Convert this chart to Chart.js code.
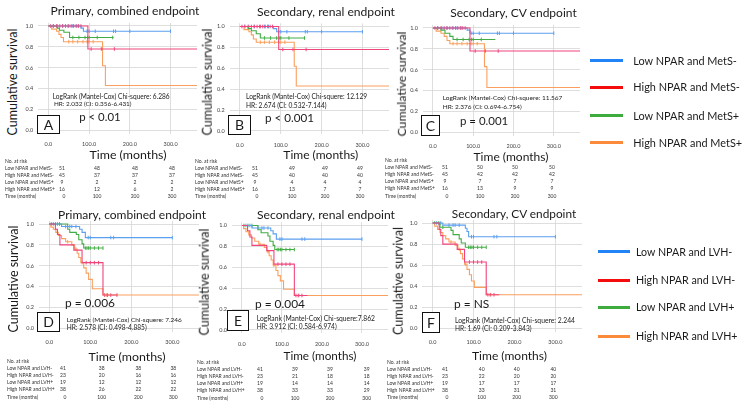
<!DOCTYPE html>
<html>
<head>
<meta charset="utf-8">
<title>Kaplan-Meier curves by NPAR with MetS and LVH</title>
<script src="https://cdn.jsdelivr.net/npm/chart.js@4.4.1/dist/chart.umd.min.js"></script>
<style>
html,body{margin:0;padding:0;background:#fff;}
#page{position:relative;width:745px;height:406px;overflow:hidden;font-family:Lato,"Liberation Sans",sans-serif;color:#1a1a1a;}
#page canvas{position:absolute;}
.t{position:absolute;white-space:nowrap;line-height:1;}
.box{position:absolute;border:1.4px solid #111;box-sizing:border-box;background:#fff;}
.lg{position:absolute;height:3px;}
</style>
</head>
<body>
<div id="page"></div>
<script>
// ================= DATA =================
const xTicks = [0, 100, 200, 300];
const yTicks = [0, 0.2, 0.4, 0.6, 0.8, 1.0];
const riskTimes = [0, 100, 200, 300];
const groupsMetS = ['Low NPAR and MetS-', 'High NPAR and MetS-', 'Low NPAR and MetS+', 'High NPAR and MetS+'];
const groupsLVH = ['Low NPAR and LVH-', 'High NPAR and LVH-', 'Low NPAR and LVH+', 'High NPAR and LVH+'];
const panelLetters = ['A', 'B', 'C', 'D', 'E', 'F'];
const panelTitles = ['Primary, combined endpoint', 'Secondary, renal endpoint', 'Secondary, CV endpoint',
                     'Primary, combined endpoint', 'Secondary, renal endpoint', 'Secondary, CV endpoint'];
const pValues = ['p < 0.01', 'p < 0.001', 'p = 0.001', 'p = 0.006', 'p = 0.004', 'p = NS'];
const logRank = ['LogRank (Mantel-Cox) Chi-squere: 6.286', 'LogRank (Mantel-Cox) Chi-squere: 12.129',
                 'LogRank (Mantel-Cox) Chi-squere: 11.567', 'LogRank (Mantel-Cox) Chi-squere: 7.246',
                 'LogRank (Mantel-Cox) Chi-squere:7.862', 'LogRank (Mantel-Cox) Chi-squere: 2.244'];
const hazardRatios = ['HR: 2.032 (CI: 0.356-6.431)', 'HR: 2.674 (CI: 0.532-7.144)', 'HR: 2.376 (CI: 0.694-6.754)',
                      'HR: 2.578 (CI: 0.498-4.885)', 'HR: 3.912 (CI: 0.584-6.974)', 'HR: 1.69 (CI: 0.209-3.843)'];

// Numbers at risk (rows follow the group order), columns at riskTimes
const riskA = [[51, 48, 48, 48], [45, 37, 37, 37], [9, 2, 2, 2], [16, 12, 6, 2]];
const riskB = [[51, 49, 49, 49], [45, 40, 40, 40], [9, 4, 4, 4], [16, 13, 7, 7]];
const riskC = [[51, 50, 50, 50], [45, 42, 42, 42], [9, 7, 7, 7], [16, 13, 9, 9]];
const riskD = [[41, 38, 38, 38], [23, 20, 16, 16], [19, 12, 12, 12], [38, 26, 22, 22]];
const riskE = [[41, 39, 39, 39], [23, 21, 18, 18], [19, 14, 14, 14], [38, 33, 33, 29]];
const riskF = [[41, 40, 40, 40], [23, 22, 20, 20], [19, 17, 17, 17], [38, 33, 31, 31]];

// Kaplan-Meier steps: [months, cumulative survival after the event]
// Panel A
const kmA_low1 = [[0, 1], [80, 0.98], [86, 0.95], [301, 0.95]];
const kmA_high1 = [[0, 1], [97, 0.78], [365, 0.78]];
const kmA_low2 = [[0, 1], [22, 0.98], [27, 0.96], [38, 0.94], [52, 0.89], [160, 0.89]];
const kmA_high2 = [[0, 1], [8, 0.97], [20, 0.95], [26, 0.92], [31, 0.89], [37, 0.85], [133, 0.62], [140, 0.43], [365, 0.43]];
// Panel B
const kmB_low1 = [[0, 1], [82, 0.98], [90, 0.95], [300, 0.95]];
const kmB_high1 = [[0, 1], [95, 0.78], [365, 0.78]];
const kmB_low2 = [[0, 1], [20, 0.98], [28, 0.96], [40, 0.93], [50, 0.89], [160, 0.89]];
const kmB_high2 = [[0, 1], [10, 0.97], [22, 0.95], [28, 0.92], [33, 0.88], [40, 0.85], [133, 0.62], [138, 0.43], [365, 0.43]];
// Panel C
const kmC_low1 = [[0, 1], [85, 0.98], [92, 0.95], [300, 0.95]];
const kmC_high1 = [[0, 1], [92, 0.78], [365, 0.78]];
const kmC_low2 = [[0, 1], [20, 0.98], [30, 0.95], [42, 0.92], [50, 0.89], [155, 0.89]];
const kmC_high2 = [[0, 1], [8, 0.97], [20, 0.95], [28, 0.92], [35, 0.88], [42, 0.85], [128, 0.63], [134, 0.43], [365, 0.43]];
// Panel D
const kmD_low1 = [[0, 1], [30, 0.976], [74, 0.95], [80, 0.92], [88, 0.87], [300, 0.87]];
const kmD_high1 = [[0, 1], [15, 0.95], [20, 0.90], [26, 0.80], [60, 0.75], [80, 0.63], [131, 0.32], [167, 0.32]];
const kmD_low2 = [[0, 1], [45, 0.95], [50, 0.92], [66, 0.90], [72, 0.85], [80, 0.81], [84, 0.77], [131, 0.77]];
const kmD_high2 = [[0, 1], [4, 0.97], [10, 0.95], [16, 0.92], [22, 0.89], [30, 0.86], [40, 0.83], [55, 0.80], [62, 0.76], [68, 0.72], [72, 0.68], [77, 0.63], [84, 0.58], [90, 0.53], [96, 0.47], [105, 0.38], [131, 0.32], [365, 0.32]];
// Panel E
const kmE_low1 = [[0, 1], [25, 0.976], [72, 0.95], [78, 0.92], [86, 0.87], [300, 0.87]];
const kmE_high1 = [[0, 1], [14, 0.95], [20, 0.89], [25, 0.81], [62, 0.76], [80, 0.63], [131, 0.33], [164, 0.33]];
const kmE_low2 = [[0, 1], [40, 0.96], [48, 0.93], [65, 0.90], [70, 0.85], [78, 0.81], [82, 0.77], [131, 0.77]];
const kmE_high2 = [[0, 1], [4, 0.97], [10, 0.94], [17, 0.91], [24, 0.88], [32, 0.85], [42, 0.82], [56, 0.79], [63, 0.75], [68, 0.71], [73, 0.67], [78, 0.62], [85, 0.57], [90, 0.52], [96, 0.47], [104, 0.39], [131, 0.33], [365, 0.33]];
// Panel F
const kmF_low1 = [[0, 1], [25, 0.98], [80, 0.95], [84, 0.92], [88, 0.87], [300, 0.87]];
const kmF_high1 = [[0, 1], [16, 0.94], [20, 0.88], [25, 0.80], [60, 0.75], [78, 0.63], [131, 0.32], [163, 0.32]];
const kmF_low2 = [[0, 1], [18, 0.96], [45, 0.93], [50, 0.89], [65, 0.85], [70, 0.81], [80, 0.77], [131, 0.77]];
const kmF_high2 = [[0, 1], [5, 0.97], [12, 0.94], [18, 0.91], [25, 0.88], [32, 0.85], [40, 0.82], [55, 0.79], [62, 0.75], [68, 0.71], [73, 0.66], [78, 0.61], [84, 0.56], [90, 0.51], [95, 0.45], [102, 0.39], [131, 0.32], [365, 0.32]];

// Censoring times (months)
const cenMetS_low1 = [12, 22, 35, 48, 60, 70, 95, 100, 115, 160, 165, 200, 300];
const cenMetS_high1 = [5, 12, 20, 28, 35, 42, 50, 56, 62, 68, 74, 80, 105, 130, 162];
const cenMetS_low2 = [60, 75, 90, 96, 100, 120, 158];
const cenMetS_high2 = [50, 60, 72, 85, 95, 100, 110];
const cenLVH_low1 = [10, 20, 40, 50, 55, 65, 95, 100, 150, 157, 300];
const cenLVH_high1 = [90, 100, 110, 120, 135, 142, 150, 165];
const cenLVH_low2 = [5, 15, 25, 88, 92, 96, 100, 110, 120, 131];
const cenLVH_high2 = [45, 65, 80, 140];

// ================= LAYOUT / STYLE =================
const lineColors = ['#5b9ff0', '#f0457a', '#43ad45', '#faa05e'];
const legendColors = ['#2283f7', '#f50c0c', '#3dab3d', '#fb8a3a'];
const XMIN = -25, XMAX = 365, YMIN = -0.03, YMAX = 1.03;

const panels = [
  {g: {x0: 48.5, ppm: 41.1, y1: 26, y0: 130.5}, km: [kmA_low1, kmA_high1, kmA_low2, kmA_high2], cen: [cenMetS_low1, cenMetS_high1, cenMetS_low2, cenMetS_high2], risk: riskA, groups: groupsMetS},
  {g: {x0: 240, ppm: 41.2, y1: 26.5, y0: 131}, km: [kmB_low1, kmB_high1, kmB_low2, kmB_high2], cen: [cenMetS_low1, cenMetS_high1, cenMetS_low2, cenMetS_high2], risk: riskB, groups: groupsMetS},
  {g: {x0: 433, ppm: 40.7, y1: 28, y0: 132.5}, km: [kmC_low1, kmC_high1, kmC_low2, kmC_high2], cen: [cenMetS_low1, cenMetS_high1, cenMetS_low2, cenMetS_high2], risk: riskC, groups: groupsMetS},
  {g: {x0: 49.3, ppm: 41.3, y1: 224, y0: 328.5}, km: [kmD_low1, kmD_high1, kmD_low2, kmD_high2], cen: [cenLVH_low1, cenLVH_high1, cenLVH_low2, cenLVH_high2], risk: riskD, groups: groupsLVH},
  {g: {x0: 242, ppm: 40.3, y1: 225.5, y0: 330}, km: [kmE_low1, kmE_high1, kmE_low2, kmE_high2], cen: [cenLVH_low1, cenLVH_high1, cenLVH_low2, cenLVH_high2], risk: riskE, groups: groupsLVH},
  {g: {x0: 432.7, ppm: 41.3, y1: 223, y0: 328.5}, km: [kmF_low1, kmF_high1, kmF_low2, kmF_high2], cen: [cenLVH_low1, cenLVH_high1, cenLVH_low2, cenLVH_high2], risk: riskF, groups: groupsLVH}
];

// text placement per panel
const textPos = [
  {title: [125, 11, 149], ylab: [13.3, 81.5, 107], xlab: [128, 155, 77], box: [37, 115, 23, 19], p: [79.3, 117.3, 41.4], lr: [52.7, 95.7, 117.3], hr: [54, 104.3, 77.7], tbl: {x: 5, y: 160.5, cols: [62, 97, 135, 172]}},
  {title: [326, 12, 138], ylab: [208, 81.5, 107], xlab: [320.8, 155, 75], box: [228, 115, 23, 20], p: [265, 118.3, 49], lr: [246, 95.7, 121.3], hr: [246, 105, 80.7], tbl: {x: 195, y: 160.5, cols: [255, 292, 325, 360]}},
  {title: [513.5, 13.3, 127], ylab: [401.7, 84, 105], xlab: [511, 156.7, 75], box: [421, 115, 19, 21], p: [460, 120.7, 48.3], lr: [442.7, 98.3, 120], hr: [442.7, 107.3, 79], tbl: {x: 385, y: 160, cols: [445, 480, 515, 552]}},
  {title: [132, 214.5, 148], ylab: [13.5, 278.5, 107], xlab: [127, 356.7, 77], box: [37, 312, 23, 20], p: [65, 303.3, 50], lr: [66.7, 320, 115], hr: [66.7, 327.7, 80], tbl: {x: 7, y: 361, cols: [63, 101.7, 138.3, 173.3]}},
  {title: [326, 215, 138], ylab: [205.3, 281.5, 107], xlab: [320, 355.5, 73], box: [227, 310, 22, 21], p: [255, 304.3, 50], lr: [256.7, 318.3, 118.3], hr: [256.7, 326.7, 80], tbl: {x: 197, y: 362, cols: [260, 295, 330, 366.7]}},
  {title: [514, 213.5, 125], ylab: [398.5, 281, 108], xlab: [509.5, 355.5, 75], box: [422, 312, 18, 21], p: [454, 304.3, 35.3], lr: [455, 320, 120], hr: [455, 328.3, 76.7], tbl: {x: 387, y: 361.5, cols: [445, 481.7, 516.7, 553.3]}}
];

const page = document.getElementById('page');
const mctx = document.createElement('canvas').getContext('2d');
function fitSize(str, base, w) {
  mctx.font = base + 'px Lato';
  return base * w / mctx.measureText(str).width;
}
function addText(str, o) {
  const d = document.createElement('div');
  d.className = 't';
  d.textContent = str;
  const size = o.w ? fitSize(str, o.size || 12, o.w) : o.size;
  d.style.fontSize = size + 'px';
  d.style.left = o.x + 'px';
  d.style.top = o.y + 'px';
  if (o.color) d.style.color = o.color;
  if (o.anchor === 'c') d.style.transform = 'translate(-50%,-50%)';
  else if (o.anchor === 'l') d.style.transform = 'translate(0,-50%)';
  else if (o.anchor === 'r') d.style.transform = 'translate(-100%,-50%)';
  else if (o.anchor === 'rot') d.style.transform = 'translate(-50%,-50%) rotate(-90deg)';
  page.appendChild(d);
  return d;
}
function survAt(km, t) {
  let s = km[0][1];
  for (const [tt, ss] of km) { if (tt <= t) s = ss; else break; }
  return s;
}

Chart.defaults.font.family = 'Lato';

const WY = 16, HX = 18, PT = 6, PR = 3;
panels.forEach((p, i) => {
  const g = p.g, h = g.y0 - g.y1, k = g.ppm / 100;
  const cl = g.x0 + XMIN * k, cr = g.x0 + XMAX * k;
  const ct = g.y1 - (YMAX - 1) * h, cb = g.y0 + (0 - YMIN) * h;
  const left = Math.floor(cl - WY - 1), top = Math.floor(ct - PT);
  const width = Math.ceil(cr - left + PR), height = Math.ceil(cb - top + HX + 1);
  const cv = document.createElement('canvas');
  cv.width = width; cv.height = height;
  cv.style.left = left + 'px'; cv.style.top = top + 'px';
  page.appendChild(cv);
  const pad = {left: cl - WY - left, top: ct - top, right: width - (cr - left), bottom: height - HX - (cb - top)};

  const order = [1, 0, 2, 3]; // draw red on top
  const datasets = [];
  order.forEach(j => {
    datasets.push({
      label: p.groups[j],
      data: p.km[j].map(([x, y]) => ({x, y})),
      stepped: true, borderColor: lineColors[j], borderWidth: 1.1,
      pointRadius: 0, fill: false
    });
  });
  order.forEach(j => {
    const last = p.km[j][p.km[j].length - 1][0];
    datasets.push({
      label: p.groups[j] + ' censored',
      data: p.cen[j].filter(t => t <= last).map(t => ({x: t, y: survAt(p.km[j], t)})),
      showLine: false, pointStyle: 'line', rotation: 90, pointRadius: 1.8,
      pointBorderWidth: 1, pointBorderColor: lineColors[j], pointBackgroundColor: lineColors[j]
    });
  });

  new Chart(cv, {
    type: 'line',
    data: {datasets},
    options: {
      responsive: false, animation: false, devicePixelRatio: 1,
      layout: {padding: pad},
      plugins: {legend: {display: false}, tooltip: {enabled: false}, title: {display: false}},
      scales: {
        x: {
          type: 'linear', min: XMIN, max: XMAX,
          afterBuildTicks: s => { s.ticks = xTicks.map(v => ({value: v})); },
          afterFit: s => { s.height = HX; s.paddingLeft = 0; s.paddingRight = 0; },
          ticks: {font: {size: 5.5}, color: '#444', padding: 7.5, autoSkip: false, maxRotation: 0, callback: v => Number(v).toFixed(1)},
          grid: {color: '#d6d6d6', lineWidth: 0.8, drawTicks: false},
          border: {display: false}
        },
        y: {
          type: 'linear', min: YMIN, max: YMAX,
          afterBuildTicks: s => { s.ticks = yTicks.map(v => ({value: v})); },
          afterFit: s => { s.width = WY; s.paddingTop = 0; s.paddingBottom = 0; },
          ticks: {font: {size: 5.5}, color: '#444', padding: 5, autoSkip: false, callback: v => Number(v).toFixed(1)},
          grid: {color: '#d6d6d6', lineWidth: 0.8, drawTicks: false},
          border: {display: false}
        }
      }
    }
  });

  // texts
  const tp = textPos[i];
  addText(panelTitles[i], {x: tp.title[0], y: tp.title[1], w: tp.title[2], size: 13, anchor: 'c'});
  addText('Cumulative survival', {x: tp.ylab[0], y: tp.ylab[1], w: tp.ylab[2], size: 13, anchor: 'rot'});
  addText('Time (months)', {x: tp.xlab[0], y: tp.xlab[1], w: tp.xlab[2], size: 15, anchor: 'c'});
  addText(logRank[i], {x: tp.lr[0], y: tp.lr[1], w: tp.lr[2], size: 6.3, anchor: 'l'});
  addText(hazardRatios[i], {x: tp.hr[0], y: tp.hr[1], w: tp.hr[2], size: 6.3, anchor: 'l'});
  addText(pValues[i], {x: tp.p[0], y: tp.p[1], w: tp.p[2], size: 14, anchor: 'l'});
  const b = document.createElement('div');
  b.className = 'box';
  b.style.left = tp.box[0] + 'px'; b.style.top = tp.box[1] + 'px';
  b.style.width = tp.box[2] + 'px'; b.style.height = tp.box[3] + 'px';
  page.appendChild(b);
  addText(panelLetters[i], {x: tp.box[0] + tp.box[2] / 2, y: tp.box[1] + tp.box[3] / 2, size: 14, anchor: 'c'});

  // risk table
  const rowH = 7.1, fs = 5;
  const tb = tp.tbl;
  addText('No. at risk', {x: tb.x, y: tb.y, size: fs, anchor: 'l', color: '#333'});
  p.groups.forEach((gname, r) => {
    const y = tb.y + rowH * (r + 1);
    addText(gname, {x: tb.x, y, size: fs, anchor: 'l', color: '#333'});
    p.risk[r].forEach((n, c) => addText(String(n), {x: tb.cols[c], y, size: fs, anchor: 'c', color: '#333'}));
  });
  const yT = tb.y + rowH * 5;
  addText('Time  (months)', {x: tb.x, y: yT, size: fs, anchor: 'l', color: '#333'});
  riskTimes.forEach((t, c) => addText(String(t), {x: tb.cols[c] + (c === 0 ? 2 : 0), y: yT, size: fs, anchor: 'c', color: '#333'}));
});

// legends
const legendSets = [
  {groups: groupsMetS, lineX: 590, lineW: 33, textX: 633.3, ys: [60.7, 87.3, 115.7, 142.7], w: 104},
  {groups: groupsLVH, lineX: 598, lineW: 32, textX: 636, ys: [251.7, 280, 307.3, 336], w: 96.7}
];
legendSets.forEach(L => {
  const fsz = fitSize(L.groups[0], 12, L.w);
  L.groups.forEach((name, j) => {
    const ln = document.createElement('div');
    ln.className = 'lg';
    ln.style.left = L.lineX + 'px'; ln.style.top = (L.ys[j] - 1.5) + 'px';
    ln.style.width = L.lineW + 'px'; ln.style.background = legendColors[j];
    page.appendChild(ln);
    addText(name, {x: L.textX, y: L.ys[j], size: fsz, anchor: 'l'});
  });
});
</script>
</body>
</html>
